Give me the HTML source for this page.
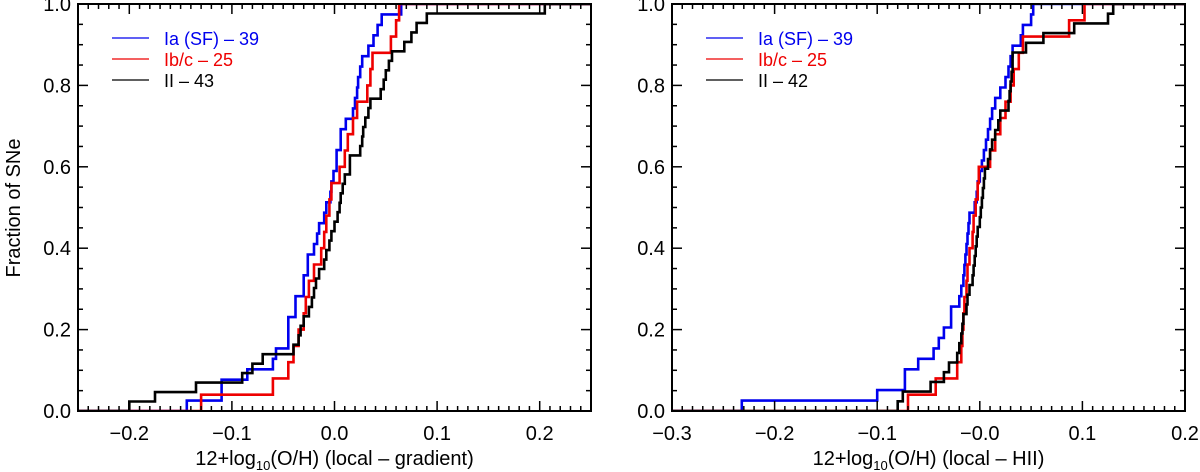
<!DOCTYPE html>
<html><head><meta charset="utf-8"><style>
body{margin:0;background:#fff}
svg{display:block;font-family:"Liberation Sans",sans-serif}
</style></head><body>
<svg id="chart" width="1200" height="472" viewBox="0 0 1200 472"></svg>
<script>
// Left panel data (sorted sample values; CDF step = 1/N)
const leftIa = [-0.144,-0.11,-0.11,-0.085,-0.06,-0.057,-0.045,-0.045,-0.045,-0.038,-0.038,-0.03,-0.03,-0.026,-0.026,-0.02,-0.017,-0.015,-0.01,-0.008,-0.004,-0.003,-0.001,0.002,0.002,0.006,0.006,0.011,0.018,0.02,0.022,0.023,0.025,0.027,0.033,0.038,0.042,0.046,0.065];
const leftIbc = [-0.13,-0.06,-0.045,-0.04,-0.035,-0.03,-0.028,-0.025,-0.02,-0.013,-0.01,-0.008,-0.005,-0.003,0.005,0.01,0.013,0.018,0.022,0.032,0.035,0.037,0.055,0.06,0.063];
const leftII = [-0.2,-0.175,-0.135,-0.09,-0.08,-0.07,-0.04,-0.035,-0.033,-0.03,-0.025,-0.022,-0.02,-0.018,-0.015,-0.01,-0.008,-0.005,-0.003,0,0.003,0.005,0.006,0.008,0.01,0.015,0.015,0.025,0.027,0.028,0.03,0.033,0.035,0.045,0.048,0.05,0.053,0.056,0.068,0.075,0.08,0.09,0.205];
// Right panel data
const rightIa = [-0.232,-0.1,-0.073,-0.073,-0.06,-0.045,-0.04,-0.035,-0.028,-0.028,-0.02,-0.018,-0.016,-0.015,-0.014,-0.013,-0.012,-0.011,-0.01,-0.005,-0.003,-0.002,0,0.002,0.004,0.006,0.008,0.01,0.012,0.015,0.02,0.025,0.028,0.03,0.032,0.04,0.042,0.05,0.052];
const rightIbc = [-0.07,-0.043,-0.022,-0.018,-0.017,-0.016,-0.015,-0.013,-0.012,-0.01,-0.007,-0.006,-0.004,-0.002,-0.001,0.01,0.015,0.02,0.025,0.03,0.033,0.038,0.042,0.087,0.102];
const rightII = [-0.08,-0.075,-0.048,-0.035,-0.03,-0.022,-0.02,-0.018,-0.017,-0.016,-0.013,-0.012,-0.01,-0.007,-0.006,-0.005,-0.004,-0.003,-0.002,0,0.001,0.002,0.003,0.004,0.005,0.008,0.01,0.012,0.015,0.018,0.02,0.028,0.029,0.03,0.031,0.032,0.032,0.045,0.062,0.092,0.125,0.13];
const leftXTicks = [-0.2,-0.1,0.0,0.1,0.2];
const leftXLabels = ["\u22120.2","\u22120.1","0.0","0.1","0.2"];
const rightXTicks = [-0.3,-0.2,-0.1,0.0,0.1,0.2];
const rightXLabels = ["\u22120.3","\u22120.2","\u22120.1","\u22120.0","0.1","0.2"];
const yTicks = [0,0.2,0.4,0.6,0.8,1.0];
const yLabels = ["0.0","0.2","0.4","0.6","0.8","1.0"];
const leftLegend = ["Ia (SF) \u2013 39","Ib/c \u2013 25","II \u2013 43"];
const rightLegend = ["Ia (SF) \u2013 39","Ib/c \u2013 25","II \u2013 42"];

const NS="http://www.w3.org/2000/svg";
const svgEl=document.getElementById('chart');
function mk(tag,attrs,parent){const e=document.createElementNS(NS,tag);for(const k in attrs)e.setAttribute(k,attrs[k]);(parent||svgEl).appendChild(e);return e;}
const yTopPx=4,yBotPx=411;
const seriesColors=["#0000ee","#ee0000","#000000"];

function panel(name,x0,x1,xmin,xmax,series,xt,xl,legend,xtitleMain){
  const g=mk('g',{});
  
  
  const X=v=>x0+(v-xmin)/(xmax-xmin)*(x1-x0);
  const Y=v=>yBotPx-v*(yBotPx-yTopPx);
  const cid='clip-'+name;
  const cp=mk('clipPath',{id:cid},g);mk('rect',{x:x0,y:yTopPx,width:x1-x0,height:yBotPx-yTopPx},cp);
  series.forEach((s,si)=>{
    const N=s.length;let d='M'+x0+','+Y(0);
    s.forEach((v,i)=>{d+=' H'+X(v).toFixed(1)+' V'+Y((i+1)/N).toFixed(1);});
    d+=' H'+x1;
    const p=mk('path',{d:d,fill:'none',stroke:seriesColors[si],'stroke-width':2.6,'clip-path':'url(#'+cid+')'},g);
    
    
  });
  const fr=mk('rect',{x:x0,y:yTopPx,width:x1-x0,height:yBotPx-yTopPx,fill:'none',stroke:'#000','stroke-width':2},g);
  
  
  const nMin=Math.round((xmax-xmin)/0.01);
  for(let i=0;i<=nMin;i++){const v=xmin+i*0.01;const px=X(v);
    const major=Math.abs(Math.round(v*10)-v*10)<1e-6;const L=major?10:5;
    mk('line',{x1:px,x2:px,y1:yBotPx,y2:yBotPx-L,stroke:'#000','stroke-width':1.5},g);
    mk('line',{x1:px,x2:px,y1:yTopPx,y2:yTopPx+L,stroke:'#000','stroke-width':1.5},g);}
  for(let i=0;i<=20;i++){const py=Y(i*0.05);const L=(i%4===0)?10:5;
    mk('line',{x1:x0,x2:x0+L,y1:py,y2:py,stroke:'#000','stroke-width':1.5},g);
    mk('line',{x1:x1,x2:x1-L,y1:py,y2:py,stroke:'#000','stroke-width':1.5},g);}
  xt.forEach((v,i)=>{const t=mk('text',{x:X(v),y:440,'text-anchor':'middle','font-size':20},g);t.textContent=xl[i];
    
    });
  yTicks.forEach((v,i)=>{const t=mk('text',{x:x0-7,y:Y(v)+7,'text-anchor':'end','font-size':20},g);t.textContent=yLabels[i];
    
    });
  const xtl=mk('text',{x:(x0+x1)/2,y:465,'text-anchor':'middle','font-size':20},g);
  
  
  const s1=mk('tspan',{},xtl);s1.textContent='12+log';
  const s2=mk('tspan',{'font-size':13,dy:5},xtl);s2.textContent='10';
  const s3=mk('tspan',{dy:-5},xtl);s3.textContent=xtitleMain;
  legend.forEach((s,i)=>{const ly=38+i*21;
    const lg=mk('g',{},g);
    
    
    mk('line',{x1:x0+34,x2:x0+71,y1:ly,y2:ly,stroke:seriesColors[i],'stroke-width':1.3},lg);
    const t=mk('text',{x:x0+86,y:ly+7,'font-size':18,fill:seriesColors[i]},lg);t.textContent=s;});
}
panel('left-panel',78,591,-0.25,0.25,[leftIa,leftIbc,leftII],leftXTicks,leftXLabels,leftLegend,'(O/H) (local \u2013 gradient)');
panel('right-panel',672,1185,-0.3,0.2,[rightIa,rightIbc,rightII],rightXTicks,rightXLabels,rightLegend,'(O/H) (local \u2013 HII)');
const yt=mk('text',{x:0,y:0,'text-anchor':'middle','font-size':20,transform:'translate(20,208) rotate(-90)'});
yt.textContent='Fraction of SNe';


</script>
</body></html>
